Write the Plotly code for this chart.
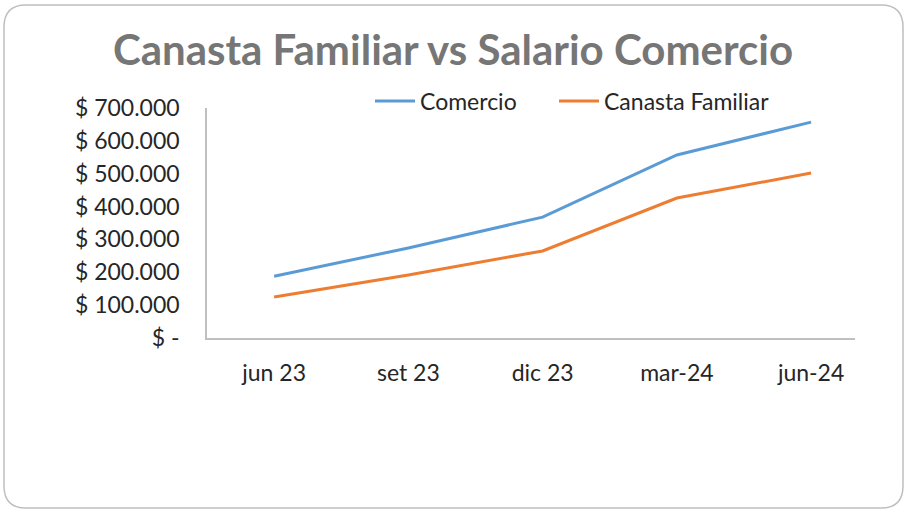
import plotly.graph_objects as go

# ── Datos ────────────────────────────────────────────────────────────────────
PERIODOS = ["jun 23", "set 23", "dic 23", "mar-24", "jun-24"]
COMERCIO = [188000, 274000, 368000, 557000, 657000]
CANASTA = [125000, 192000, 265000, 426000, 502000]
Y_TICKS = [0, 100000, 200000, 300000, 400000, 500000, 600000, 700000]
Y_TICK_TEXT = ["$ -", "$ 100.000", "$ 200.000", "$ 300.000",
               "$ 400.000", "$ 500.000", "$ 600.000", "$ 700.000"]

# ── Estilo ───────────────────────────────────────────────────────────────────
W, H = 906, 510
L, R, T, B = 207, 855, 108, 338          # área de trazado en píxeles
BLUE = "#5B9BD5"
ORANGE = "#ED7D31"
AXIS_GRAY = "#BFBFBF"
TEXT = "#262626"
FONT = "Lato"


def px_x(x):
    return (x - L) / (R - L)


def px_y(y):
    return (B - y) / (B - T)


def rounded_border(x0, y0, x1, y1, r):
    """Path SVG (coordenadas paper) de un rectángulo con esquinas redondeadas."""
    pts = [
        f"M {px_x(x0 + r)} {px_y(y0)}",
        f"L {px_x(x1 - r)} {px_y(y0)}",
        f"Q {px_x(x1)} {px_y(y0)} {px_x(x1)} {px_y(y0 + r)}",
        f"L {px_x(x1)} {px_y(y1 - r)}",
        f"Q {px_x(x1)} {px_y(y1)} {px_x(x1 - r)} {px_y(y1)}",
        f"L {px_x(x0 + r)} {px_y(y1)}",
        f"Q {px_x(x0)} {px_y(y1)} {px_x(x0)} {px_y(y1 - r)}",
        f"L {px_x(x0)} {px_y(y0 + r)}",
        f"Q {px_x(x0)} {px_y(y0)} {px_x(x0 + r)} {px_y(y0)}",
        "Z",
    ]
    return " ".join(pts)


def legend_box(x_px):
    return dict(
        orientation="h", x=px_x(x_px), y=px_y(101),
        xanchor="left", yanchor="middle",
        font=dict(size=23, color=TEXT),
        bgcolor="rgba(0,0,0,0)", itemwidth=40,
    )


fig = go.Figure()
fig.add_trace(go.Scatter(
    x=PERIODOS, y=COMERCIO, name="Comercio", mode="lines",
    line=dict(color=BLUE, width=3), legend="legend", showlegend=True,
))
fig.add_trace(go.Scatter(
    x=PERIODOS, y=CANASTA, name="Canasta Familiar", mode="lines",
    line=dict(color=ORANGE, width=3), legend="legend2", showlegend=True,
))

fig.add_shape(
    type="path", xref="paper", yref="paper",
    path=rounded_border(4, 5, 903, 508, 22),
    line=dict(color=AXIS_GRAY, width=1.5), layer="below",
)

fig.update_layout(
    width=W, height=H,
    margin=dict(l=L, r=W - R, t=T, b=H - B),
    paper_bgcolor="white", plot_bgcolor="white",
    font=dict(family=FONT, size=23, color=TEXT),
    showlegend=True,
    title=dict(
        text="<b>Canasta Familiar vs Salario Comercio</b>",
        x=0.5, xref="container", xanchor="center",
        y=1 - 50 / H, yref="container", yanchor="middle",
        font=dict(family=FONT, size=42, color="#767676"),
    ),
    legend=legend_box(370),
    legend2=legend_box(554),
    xaxis=dict(
        type="category", range=[-0.5, 4.327],
        showline=True, linecolor=AXIS_GRAY, linewidth=1.5,
        showgrid=False, zeroline=False, ticks="",
        tickfont=dict(size=23, color=TEXT),
        ticklabelstandoff=14,
    ),
    yaxis=dict(
        range=[0, 700000],
        tickvals=Y_TICKS, ticktext=Y_TICK_TEXT,
        showline=True, linecolor=AXIS_GRAY, linewidth=1.5,
        showgrid=False, zeroline=False, ticks="",
        tickfont=dict(size=23, color=TEXT),
        ticklabelstandoff=21,
    ),
)

fig.write_html(
    "out.html",
    config={"displayModeBar": False},
    post_script="document.body.style.margin='0';",
)
